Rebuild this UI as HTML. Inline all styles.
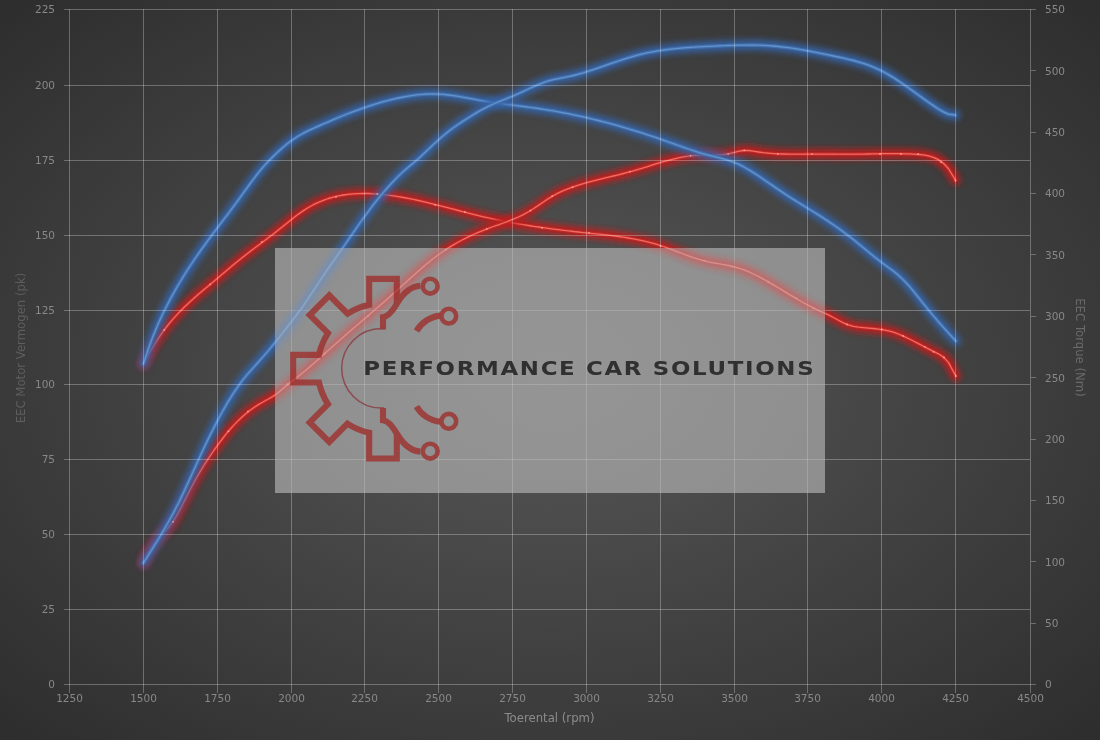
<!DOCTYPE html>
<html><head><meta charset="utf-8"><title>Dyno chart</title>
<style>
html,body{margin:0;padding:0;}
body{width:1100px;height:740px;overflow:hidden;background:#333;}
#c{position:absolute;left:0;top:0;width:1100px;height:740px;
background:radial-gradient(ellipse farthest-corner at 50% 50%,#585858 0%,#2d2d2d 100%);}
svg{position:absolute;left:0;top:0;}
text{font-family:"DejaVu Sans","Liberation Sans",sans-serif;}
</style></head><body><div id="c">
<svg width="1100" height="740" viewBox="0 0 1100 740">
<defs>
<filter id="g1" x="-5%" y="-10%" width="110%" height="120%"><feGaussianBlur stdDeviation="3.4"/></filter>
</defs>

<g fill="#888888" font-size="10.5">
<text x="69.5" y="701.5" text-anchor="middle">1250</text>
<text x="143.5" y="701.5" text-anchor="middle">1500</text>
<text x="217.5" y="701.5" text-anchor="middle">1750</text>
<text x="291.5" y="701.5" text-anchor="middle">2000</text>
<text x="364.5" y="701.5" text-anchor="middle">2250</text>
<text x="438.5" y="701.5" text-anchor="middle">2500</text>
<text x="512.5" y="701.5" text-anchor="middle">2750</text>
<text x="586.5" y="701.5" text-anchor="middle">3000</text>
<text x="660.5" y="701.5" text-anchor="middle">3250</text>
<text x="734.5" y="701.5" text-anchor="middle">3500</text>
<text x="807.5" y="701.5" text-anchor="middle">3750</text>
<text x="881.5" y="701.5" text-anchor="middle">4000</text>
<text x="955.5" y="701.5" text-anchor="middle">4250</text>
<text x="1030.5" y="701.5" text-anchor="middle">4500</text>
<text x="55" y="13.2" text-anchor="end">225</text>
<text x="55" y="89.2" text-anchor="end">200</text>
<text x="55" y="164.2" text-anchor="end">175</text>
<text x="55" y="239.2" text-anchor="end">150</text>
<text x="55" y="314.2" text-anchor="end">125</text>
<text x="55" y="388.2" text-anchor="end">100</text>
<text x="55" y="463.2" text-anchor="end">75</text>
<text x="55" y="538.2" text-anchor="end">50</text>
<text x="55" y="613.2" text-anchor="end">25</text>
<text x="55" y="688.2" text-anchor="end">0</text>
<text x="1045" y="688.3">0</text>
<text x="1045" y="626.9">50</text>
<text x="1045" y="565.6">100</text>
<text x="1045" y="504.2">150</text>
<text x="1045" y="442.8">200</text>
<text x="1045" y="381.5">250</text>
<text x="1045" y="320.1">300</text>
<text x="1045" y="258.8">350</text>
<text x="1045" y="197.4">400</text>
<text x="1045" y="136.0">450</text>
<text x="1045" y="74.7">500</text>
<text x="1045" y="13.3">550</text>
</g>
<text x="549.5" y="721.6" text-anchor="middle" font-size="11.7" fill="#8c8c8c">Toerental (rpm)</text>
<text transform="translate(24.6,348) rotate(-90)" text-anchor="middle" font-size="11.7" fill="#5e5e5e">EEC Motor Vermogen (pk)</text>
<text transform="translate(1075.6,347.5) rotate(90)" text-anchor="middle" font-size="11.7" fill="#6a6a6a">EEC Torque (Nm)</text>
<path d="M143.4,364.0 148.4,354.6 153.4,346.0 158.4,338.2 163.4,331.0 168.4,324.5 173.4,318.6 178.4,313.1 183.4,308.0 188.4,303.2 193.4,298.7 198.4,294.3 203.4,290.1 208.4,285.9 213.4,281.7 218.4,277.5 223.4,273.2 228.4,269.0 233.4,264.8 238.4,260.7 243.4,256.7 248.4,252.8 253.4,249.0 258.4,245.2 263.4,241.5 268.4,237.7 273.4,233.9 278.4,230.0 283.4,226.0 288.4,221.9 293.4,217.9 298.4,214.1 303.4,210.6 308.4,207.5 313.4,204.7 318.4,202.3 323.4,200.3 328.4,198.5 333.4,197.1 338.4,195.9 343.4,195.0 348.4,194.3 353.4,193.9 358.4,193.6 363.4,193.5 368.4,193.5 373.4,193.8 378.4,194.1 383.4,194.6 388.4,195.2 393.4,195.8 398.4,196.6 403.4,197.5 408.4,198.4 413.4,199.4 418.4,200.5 423.4,201.7 428.4,202.8 433.4,204.1 438.4,205.3 443.4,206.6 448.4,207.9 453.4,209.2 458.4,210.5 463.4,211.8 468.4,213.1 473.4,214.4 478.4,215.6 483.4,216.8 488.4,217.9 493.4,219.0 498.4,220.1 503.4,221.1 508.4,222.1 513.4,223.0 518.4,223.9 523.4,224.7 528.4,225.5 533.4,226.3 538.4,227.0 543.4,227.7 548.4,228.4 553.4,229.1 558.4,229.7 563.4,230.3 568.4,230.9 573.4,231.5 578.4,232.0 583.4,232.6 588.4,233.1 593.4,233.6 598.4,234.1 603.4,234.6 608.4,235.2 613.4,235.8 618.4,236.5 623.4,237.2 628.4,238.0 633.4,238.8 638.4,239.8 643.4,240.9 648.4,242.1 653.4,243.4 658.4,244.9 663.4,246.5 668.4,248.3 673.4,250.2 678.4,252.1 683.4,254.0 688.4,255.8 693.4,257.6 698.4,259.2 703.4,260.6 708.4,261.8 713.4,262.8 718.4,263.7 723.4,264.6 728.4,265.5 733.4,266.7 738.4,268.0 743.4,269.7 748.4,271.7 753.4,274.0 758.4,276.4 763.4,279.1 768.4,281.9 773.4,284.9 778.4,287.8 783.4,290.9 788.4,293.9 793.4,296.9 798.4,299.8 803.4,302.7 808.4,305.4 813.4,307.9 818.4,310.3 823.4,312.6 828.4,314.9 833.4,317.5 838.4,320.2 843.4,322.8 848.4,324.9 853.4,326.3 858.4,327.1 863.4,327.6 868.4,328.1 873.4,328.5 878.4,329.1 883.4,329.8 888.4,330.8 893.4,332.2 898.4,334.0 903.4,336.1 908.4,338.5 913.4,341.0 918.4,343.6 923.4,346.3 928.4,348.9 933.4,351.4 938.4,353.8 943.4,357.1 948.4,362.4 955.8,376.0" fill="none" stroke="#c01c1c" stroke-width="10" stroke-linecap="round" stroke-linejoin="round" filter="url(#g1)" opacity="0.95"/><path d="M143.4,364.0 148.4,354.6 153.4,346.0 158.4,338.2 163.4,331.0 168.4,324.5 173.4,318.6 178.4,313.1 183.4,308.0 188.4,303.2 193.4,298.7 198.4,294.3 203.4,290.1 208.4,285.9 213.4,281.7 218.4,277.5 223.4,273.2 228.4,269.0 233.4,264.8 238.4,260.7 243.4,256.7 248.4,252.8 253.4,249.0 258.4,245.2 263.4,241.5 268.4,237.7 273.4,233.9 278.4,230.0 283.4,226.0 288.4,221.9 293.4,217.9 298.4,214.1 303.4,210.6 308.4,207.5 313.4,204.7 318.4,202.3 323.4,200.3 328.4,198.5 333.4,197.1 338.4,195.9 343.4,195.0 348.4,194.3 353.4,193.9 358.4,193.6 363.4,193.5 368.4,193.5 373.4,193.8 378.4,194.1 383.4,194.6 388.4,195.2 393.4,195.8 398.4,196.6 403.4,197.5 408.4,198.4 413.4,199.4 418.4,200.5 423.4,201.7 428.4,202.8 433.4,204.1 438.4,205.3 443.4,206.6 448.4,207.9 453.4,209.2 458.4,210.5 463.4,211.8 468.4,213.1 473.4,214.4 478.4,215.6 483.4,216.8 488.4,217.9 493.4,219.0 498.4,220.1 503.4,221.1 508.4,222.1 513.4,223.0 518.4,223.9 523.4,224.7 528.4,225.5 533.4,226.3 538.4,227.0 543.4,227.7 548.4,228.4 553.4,229.1 558.4,229.7 563.4,230.3 568.4,230.9 573.4,231.5 578.4,232.0 583.4,232.6 588.4,233.1 593.4,233.6 598.4,234.1 603.4,234.6 608.4,235.2 613.4,235.8 618.4,236.5 623.4,237.2 628.4,238.0 633.4,238.8 638.4,239.8 643.4,240.9 648.4,242.1 653.4,243.4 658.4,244.9 663.4,246.5 668.4,248.3 673.4,250.2 678.4,252.1 683.4,254.0 688.4,255.8 693.4,257.6 698.4,259.2 703.4,260.6 708.4,261.8 713.4,262.8 718.4,263.7 723.4,264.6 728.4,265.5 733.4,266.7 738.4,268.0 743.4,269.7 748.4,271.7 753.4,274.0 758.4,276.4 763.4,279.1 768.4,281.9 773.4,284.9 778.4,287.8 783.4,290.9 788.4,293.9 793.4,296.9 798.4,299.8 803.4,302.7 808.4,305.4 813.4,307.9 818.4,310.3 823.4,312.6 828.4,314.9 833.4,317.5 838.4,320.2 843.4,322.8 848.4,324.9 853.4,326.3 858.4,327.1 863.4,327.6 868.4,328.1 873.4,328.5 878.4,329.1 883.4,329.8 888.4,330.8 893.4,332.2 898.4,334.0 903.4,336.1 908.4,338.5 913.4,341.0 918.4,343.6 923.4,346.3 928.4,348.9 933.4,351.4 938.4,353.8 943.4,357.1 948.4,362.4 955.8,376.0" fill="none" stroke="#c42828" stroke-width="3.6" stroke-linecap="round" stroke-linejoin="round" opacity="0.9"/><path d="M143.4,364.0 148.4,354.6 153.4,346.0 158.4,338.2 163.4,331.0 168.4,324.5 173.4,318.6 178.4,313.1 183.4,308.0 188.4,303.2 193.4,298.7 198.4,294.3 203.4,290.1 208.4,285.9 213.4,281.7 218.4,277.5 223.4,273.2 228.4,269.0 233.4,264.8 238.4,260.7 243.4,256.7 248.4,252.8 253.4,249.0 258.4,245.2 263.4,241.5 268.4,237.7 273.4,233.9 278.4,230.0 283.4,226.0 288.4,221.9 293.4,217.9 298.4,214.1 303.4,210.6 308.4,207.5 313.4,204.7 318.4,202.3 323.4,200.3 328.4,198.5 333.4,197.1 338.4,195.9 343.4,195.0 348.4,194.3 353.4,193.9 358.4,193.6 363.4,193.5 368.4,193.5 373.4,193.8 378.4,194.1 383.4,194.6 388.4,195.2 393.4,195.8 398.4,196.6 403.4,197.5 408.4,198.4 413.4,199.4 418.4,200.5 423.4,201.7 428.4,202.8 433.4,204.1 438.4,205.3 443.4,206.6 448.4,207.9 453.4,209.2 458.4,210.5 463.4,211.8 468.4,213.1 473.4,214.4 478.4,215.6 483.4,216.8 488.4,217.9 493.4,219.0 498.4,220.1 503.4,221.1 508.4,222.1 513.4,223.0 518.4,223.9 523.4,224.7 528.4,225.5 533.4,226.3 538.4,227.0 543.4,227.7 548.4,228.4 553.4,229.1 558.4,229.7 563.4,230.3 568.4,230.9 573.4,231.5 578.4,232.0 583.4,232.6 588.4,233.1 593.4,233.6 598.4,234.1 603.4,234.6 608.4,235.2 613.4,235.8 618.4,236.5 623.4,237.2 628.4,238.0 633.4,238.8 638.4,239.8 643.4,240.9 648.4,242.1 653.4,243.4 658.4,244.9 663.4,246.5 668.4,248.3 673.4,250.2 678.4,252.1 683.4,254.0 688.4,255.8 693.4,257.6 698.4,259.2 703.4,260.6 708.4,261.8 713.4,262.8 718.4,263.7 723.4,264.6 728.4,265.5 733.4,266.7 738.4,268.0 743.4,269.7 748.4,271.7 753.4,274.0 758.4,276.4 763.4,279.1 768.4,281.9 773.4,284.9 778.4,287.8 783.4,290.9 788.4,293.9 793.4,296.9 798.4,299.8 803.4,302.7 808.4,305.4 813.4,307.9 818.4,310.3 823.4,312.6 828.4,314.9 833.4,317.5 838.4,320.2 843.4,322.8 848.4,324.9 853.4,326.3 858.4,327.1 863.4,327.6 868.4,328.1 873.4,328.5 878.4,329.1 883.4,329.8 888.4,330.8 893.4,332.2 898.4,334.0 903.4,336.1 908.4,338.5 913.4,341.0 918.4,343.6 923.4,346.3 928.4,348.9 933.4,351.4 938.4,353.8 943.4,357.1 948.4,362.4 955.8,376.0" fill="none" stroke="#f47a6c" stroke-width="1.3" stroke-linecap="round" stroke-linejoin="round" opacity="0.85"/>
<path d="M143.4,563.0 148.4,552.4 153.4,544.5 158.4,538.3 163.4,533.0 168.4,527.5 173.4,520.9 178.4,512.5 183.4,502.8 188.4,492.9 193.4,483.3 198.4,474.4 203.4,466.1 208.4,458.4 213.4,451.1 218.4,444.1 223.4,437.5 228.4,431.2 233.4,425.6 238.4,420.4 243.4,415.8 248.4,411.6 253.4,407.9 258.4,404.6 263.4,401.7 268.4,399.0 273.4,396.1 278.4,392.5 283.4,388.2 288.4,384.0 293.4,380.1 298.4,376.3 303.4,372.3 308.4,368.1 313.4,363.7 318.4,359.2 323.4,354.7 328.4,350.2 333.4,345.8 338.4,341.4 343.4,337.0 348.4,332.6 353.4,328.3 358.4,324.0 363.4,319.7 368.4,315.4 373.4,311.0 378.4,306.7 383.4,302.4 388.4,298.0 393.4,293.5 398.4,289.1 403.4,284.6 408.4,280.0 413.4,275.5 418.4,271.0 423.4,266.7 428.4,262.5 433.4,258.5 438.4,254.7 443.4,251.2 448.4,247.9 453.4,244.9 458.4,242.0 463.4,239.3 468.4,236.8 473.4,234.5 478.4,232.3 483.4,230.3 488.4,228.3 493.4,226.5 498.4,224.8 503.4,223.0 508.4,221.1 513.4,219.2 518.4,217.0 523.4,214.6 528.4,211.8 533.4,208.8 538.4,205.4 543.4,202.0 548.4,198.6 553.4,195.6 558.4,192.9 563.4,190.6 568.4,188.6 573.4,186.8 578.4,185.1 583.4,183.6 588.4,182.2 593.4,180.8 598.4,179.6 603.4,178.4 608.4,177.2 613.4,176.0 618.4,174.8 623.4,173.5 628.4,172.2 633.4,170.8 638.4,169.3 643.4,167.8 648.4,166.3 653.4,164.7 658.4,163.2 663.4,161.7 668.4,160.4 673.4,159.1 678.4,157.9 683.4,156.9 688.4,156.1 693.4,155.5 698.4,155.1 703.4,155.0 708.4,155.0 713.4,155.1 718.4,155.0 723.4,154.6 728.4,153.8 733.4,152.6 738.4,151.3 743.4,150.5 748.4,150.5 753.4,151.2 758.4,152.0 763.4,152.7 768.4,153.2 773.4,153.6 778.4,153.9 783.4,154.0 788.4,154.1 793.4,154.2 798.4,154.2 803.4,154.2 808.4,154.1 813.4,154.1 818.4,154.1 823.4,154.1 828.4,154.1 833.4,154.1 838.4,154.2 843.4,154.2 848.4,154.2 853.4,154.2 858.4,154.1 863.4,154.1 868.4,154.0 873.4,153.9 878.4,153.8 883.4,153.7 888.4,153.7 893.4,153.7 898.4,153.7 903.4,153.8 908.4,153.9 913.4,154.2 918.4,154.5 923.4,154.9 928.4,155.8 933.4,157.3 938.4,159.6 943.4,163.2 948.4,168.5 955.4,180.0" fill="none" stroke="#c01c1c" stroke-width="10" stroke-linecap="round" stroke-linejoin="round" filter="url(#g1)" opacity="0.95"/><path d="M143.4,563.0 148.4,552.4 153.4,544.5 158.4,538.3 163.4,533.0 168.4,527.5 173.4,520.9 178.4,512.5 183.4,502.8 188.4,492.9 193.4,483.3 198.4,474.4 203.4,466.1 208.4,458.4 213.4,451.1 218.4,444.1 223.4,437.5 228.4,431.2 233.4,425.6 238.4,420.4 243.4,415.8 248.4,411.6 253.4,407.9 258.4,404.6 263.4,401.7 268.4,399.0 273.4,396.1 278.4,392.5 283.4,388.2 288.4,384.0 293.4,380.1 298.4,376.3 303.4,372.3 308.4,368.1 313.4,363.7 318.4,359.2 323.4,354.7 328.4,350.2 333.4,345.8 338.4,341.4 343.4,337.0 348.4,332.6 353.4,328.3 358.4,324.0 363.4,319.7 368.4,315.4 373.4,311.0 378.4,306.7 383.4,302.4 388.4,298.0 393.4,293.5 398.4,289.1 403.4,284.6 408.4,280.0 413.4,275.5 418.4,271.0 423.4,266.7 428.4,262.5 433.4,258.5 438.4,254.7 443.4,251.2 448.4,247.9 453.4,244.9 458.4,242.0 463.4,239.3 468.4,236.8 473.4,234.5 478.4,232.3 483.4,230.3 488.4,228.3 493.4,226.5 498.4,224.8 503.4,223.0 508.4,221.1 513.4,219.2 518.4,217.0 523.4,214.6 528.4,211.8 533.4,208.8 538.4,205.4 543.4,202.0 548.4,198.6 553.4,195.6 558.4,192.9 563.4,190.6 568.4,188.6 573.4,186.8 578.4,185.1 583.4,183.6 588.4,182.2 593.4,180.8 598.4,179.6 603.4,178.4 608.4,177.2 613.4,176.0 618.4,174.8 623.4,173.5 628.4,172.2 633.4,170.8 638.4,169.3 643.4,167.8 648.4,166.3 653.4,164.7 658.4,163.2 663.4,161.7 668.4,160.4 673.4,159.1 678.4,157.9 683.4,156.9 688.4,156.1 693.4,155.5 698.4,155.1 703.4,155.0 708.4,155.0 713.4,155.1 718.4,155.0 723.4,154.6 728.4,153.8 733.4,152.6 738.4,151.3 743.4,150.5 748.4,150.5 753.4,151.2 758.4,152.0 763.4,152.7 768.4,153.2 773.4,153.6 778.4,153.9 783.4,154.0 788.4,154.1 793.4,154.2 798.4,154.2 803.4,154.2 808.4,154.1 813.4,154.1 818.4,154.1 823.4,154.1 828.4,154.1 833.4,154.1 838.4,154.2 843.4,154.2 848.4,154.2 853.4,154.2 858.4,154.1 863.4,154.1 868.4,154.0 873.4,153.9 878.4,153.8 883.4,153.7 888.4,153.7 893.4,153.7 898.4,153.7 903.4,153.8 908.4,153.9 913.4,154.2 918.4,154.5 923.4,154.9 928.4,155.8 933.4,157.3 938.4,159.6 943.4,163.2 948.4,168.5 955.4,180.0" fill="none" stroke="#c42828" stroke-width="3.6" stroke-linecap="round" stroke-linejoin="round" opacity="0.9"/><path d="M143.4,563.0 148.4,552.4 153.4,544.5 158.4,538.3 163.4,533.0 168.4,527.5 173.4,520.9 178.4,512.5 183.4,502.8 188.4,492.9 193.4,483.3 198.4,474.4 203.4,466.1 208.4,458.4 213.4,451.1 218.4,444.1 223.4,437.5 228.4,431.2 233.4,425.6 238.4,420.4 243.4,415.8 248.4,411.6 253.4,407.9 258.4,404.6 263.4,401.7 268.4,399.0 273.4,396.1 278.4,392.5 283.4,388.2 288.4,384.0 293.4,380.1 298.4,376.3 303.4,372.3 308.4,368.1 313.4,363.7 318.4,359.2 323.4,354.7 328.4,350.2 333.4,345.8 338.4,341.4 343.4,337.0 348.4,332.6 353.4,328.3 358.4,324.0 363.4,319.7 368.4,315.4 373.4,311.0 378.4,306.7 383.4,302.4 388.4,298.0 393.4,293.5 398.4,289.1 403.4,284.6 408.4,280.0 413.4,275.5 418.4,271.0 423.4,266.7 428.4,262.5 433.4,258.5 438.4,254.7 443.4,251.2 448.4,247.9 453.4,244.9 458.4,242.0 463.4,239.3 468.4,236.8 473.4,234.5 478.4,232.3 483.4,230.3 488.4,228.3 493.4,226.5 498.4,224.8 503.4,223.0 508.4,221.1 513.4,219.2 518.4,217.0 523.4,214.6 528.4,211.8 533.4,208.8 538.4,205.4 543.4,202.0 548.4,198.6 553.4,195.6 558.4,192.9 563.4,190.6 568.4,188.6 573.4,186.8 578.4,185.1 583.4,183.6 588.4,182.2 593.4,180.8 598.4,179.6 603.4,178.4 608.4,177.2 613.4,176.0 618.4,174.8 623.4,173.5 628.4,172.2 633.4,170.8 638.4,169.3 643.4,167.8 648.4,166.3 653.4,164.7 658.4,163.2 663.4,161.7 668.4,160.4 673.4,159.1 678.4,157.9 683.4,156.9 688.4,156.1 693.4,155.5 698.4,155.1 703.4,155.0 708.4,155.0 713.4,155.1 718.4,155.0 723.4,154.6 728.4,153.8 733.4,152.6 738.4,151.3 743.4,150.5 748.4,150.5 753.4,151.2 758.4,152.0 763.4,152.7 768.4,153.2 773.4,153.6 778.4,153.9 783.4,154.0 788.4,154.1 793.4,154.2 798.4,154.2 803.4,154.2 808.4,154.1 813.4,154.1 818.4,154.1 823.4,154.1 828.4,154.1 833.4,154.1 838.4,154.2 843.4,154.2 848.4,154.2 853.4,154.2 858.4,154.1 863.4,154.1 868.4,154.0 873.4,153.9 878.4,153.8 883.4,153.7 888.4,153.7 893.4,153.7 898.4,153.7 903.4,153.8 908.4,153.9 913.4,154.2 918.4,154.5 923.4,154.9 928.4,155.8 933.4,157.3 938.4,159.6 943.4,163.2 948.4,168.5 955.4,180.0" fill="none" stroke="#f47a6c" stroke-width="1.3" stroke-linecap="round" stroke-linejoin="round" opacity="0.85"/>
<path d="M143.4,363.9 148.4,348.7 153.4,335.2 158.4,323.3 163.4,312.5 168.4,302.7 173.4,293.4 178.4,284.7 183.4,276.4 188.4,268.5 193.4,261.0 198.4,253.7 203.4,246.7 208.4,239.8 213.4,233.1 218.4,226.5 223.4,219.9 228.4,213.3 233.4,206.6 238.4,199.9 243.4,192.9 248.4,186.0 253.4,179.2 258.4,172.7 263.4,166.6 268.4,161.2 273.4,156.2 278.4,151.4 283.4,146.9 288.4,142.8 293.4,139.2 298.4,136.0 303.4,133.2 308.4,130.7 313.4,128.4 318.4,126.1 323.4,123.9 328.4,121.8 333.4,119.6 338.4,117.5 343.4,115.5 348.4,113.5 353.4,111.6 358.4,109.8 363.4,108.0 368.4,106.3 373.4,104.7 378.4,103.1 383.4,101.7 388.4,100.4 393.4,99.1 398.4,98.0 403.4,97.0 408.4,96.1 413.4,95.4 418.4,94.7 423.4,94.3 428.4,94.0 433.4,94.0 438.4,94.1 443.4,94.4 448.4,95.0 453.4,95.6 458.4,96.4 463.4,97.3 468.4,98.2 473.4,99.1 478.4,100.1 483.4,101.0 488.4,101.8 493.4,102.5 498.4,103.3 503.4,103.9 508.4,104.6 513.4,105.2 518.4,105.9 523.4,106.5 528.4,107.2 533.4,107.8 538.4,108.5 543.4,109.3 548.4,110.1 553.4,110.9 558.4,111.8 563.4,112.8 568.4,113.7 573.4,114.8 578.4,115.8 583.4,116.9 588.4,118.1 593.4,119.3 598.4,120.5 603.4,121.8 608.4,123.1 613.4,124.4 618.4,125.8 623.4,127.3 628.4,128.8 633.4,130.3 638.4,131.8 643.4,133.4 648.4,135.1 653.4,136.7 658.4,138.4 663.4,140.2 668.4,142.0 673.4,143.7 678.4,145.5 683.4,147.3 688.4,149.0 693.4,150.7 698.4,152.3 703.4,153.8 708.4,155.2 713.4,156.4 718.4,157.6 723.4,158.9 728.4,160.4 733.4,162.1 738.4,164.2 743.4,166.7 748.4,169.5 753.4,172.6 758.4,175.8 763.4,179.2 768.4,182.7 773.4,186.1 778.4,189.6 783.4,192.9 788.4,196.2 793.4,199.4 798.4,202.5 803.4,205.6 808.4,208.7 813.4,211.8 818.4,214.9 823.4,218.1 828.4,221.4 833.4,224.8 838.4,228.3 843.4,231.9 848.4,235.7 853.4,239.6 858.4,243.7 863.4,247.8 868.4,251.9 873.4,256.0 878.4,259.9 883.4,263.7 888.4,267.4 893.4,271.1 898.4,275.2 903.4,279.9 908.4,285.2 913.4,291.1 918.4,297.3 923.4,303.7 928.4,309.9 933.4,315.9 938.4,321.7 943.4,327.4 948.4,332.9 955.8,341.0" fill="none" stroke="#3464a8" stroke-width="10" stroke-linecap="round" stroke-linejoin="round" filter="url(#g1)" opacity="0.95"/><path d="M143.4,363.9 148.4,348.7 153.4,335.2 158.4,323.3 163.4,312.5 168.4,302.7 173.4,293.4 178.4,284.7 183.4,276.4 188.4,268.5 193.4,261.0 198.4,253.7 203.4,246.7 208.4,239.8 213.4,233.1 218.4,226.5 223.4,219.9 228.4,213.3 233.4,206.6 238.4,199.9 243.4,192.9 248.4,186.0 253.4,179.2 258.4,172.7 263.4,166.6 268.4,161.2 273.4,156.2 278.4,151.4 283.4,146.9 288.4,142.8 293.4,139.2 298.4,136.0 303.4,133.2 308.4,130.7 313.4,128.4 318.4,126.1 323.4,123.9 328.4,121.8 333.4,119.6 338.4,117.5 343.4,115.5 348.4,113.5 353.4,111.6 358.4,109.8 363.4,108.0 368.4,106.3 373.4,104.7 378.4,103.1 383.4,101.7 388.4,100.4 393.4,99.1 398.4,98.0 403.4,97.0 408.4,96.1 413.4,95.4 418.4,94.7 423.4,94.3 428.4,94.0 433.4,94.0 438.4,94.1 443.4,94.4 448.4,95.0 453.4,95.6 458.4,96.4 463.4,97.3 468.4,98.2 473.4,99.1 478.4,100.1 483.4,101.0 488.4,101.8 493.4,102.5 498.4,103.3 503.4,103.9 508.4,104.6 513.4,105.2 518.4,105.9 523.4,106.5 528.4,107.2 533.4,107.8 538.4,108.5 543.4,109.3 548.4,110.1 553.4,110.9 558.4,111.8 563.4,112.8 568.4,113.7 573.4,114.8 578.4,115.8 583.4,116.9 588.4,118.1 593.4,119.3 598.4,120.5 603.4,121.8 608.4,123.1 613.4,124.4 618.4,125.8 623.4,127.3 628.4,128.8 633.4,130.3 638.4,131.8 643.4,133.4 648.4,135.1 653.4,136.7 658.4,138.4 663.4,140.2 668.4,142.0 673.4,143.7 678.4,145.5 683.4,147.3 688.4,149.0 693.4,150.7 698.4,152.3 703.4,153.8 708.4,155.2 713.4,156.4 718.4,157.6 723.4,158.9 728.4,160.4 733.4,162.1 738.4,164.2 743.4,166.7 748.4,169.5 753.4,172.6 758.4,175.8 763.4,179.2 768.4,182.7 773.4,186.1 778.4,189.6 783.4,192.9 788.4,196.2 793.4,199.4 798.4,202.5 803.4,205.6 808.4,208.7 813.4,211.8 818.4,214.9 823.4,218.1 828.4,221.4 833.4,224.8 838.4,228.3 843.4,231.9 848.4,235.7 853.4,239.6 858.4,243.7 863.4,247.8 868.4,251.9 873.4,256.0 878.4,259.9 883.4,263.7 888.4,267.4 893.4,271.1 898.4,275.2 903.4,279.9 908.4,285.2 913.4,291.1 918.4,297.3 923.4,303.7 928.4,309.9 933.4,315.9 938.4,321.7 943.4,327.4 948.4,332.9 955.8,341.0" fill="none" stroke="#4272b2" stroke-width="3.6" stroke-linecap="round" stroke-linejoin="round" opacity="0.9"/><path d="M143.4,363.9 148.4,348.7 153.4,335.2 158.4,323.3 163.4,312.5 168.4,302.7 173.4,293.4 178.4,284.7 183.4,276.4 188.4,268.5 193.4,261.0 198.4,253.7 203.4,246.7 208.4,239.8 213.4,233.1 218.4,226.5 223.4,219.9 228.4,213.3 233.4,206.6 238.4,199.9 243.4,192.9 248.4,186.0 253.4,179.2 258.4,172.7 263.4,166.6 268.4,161.2 273.4,156.2 278.4,151.4 283.4,146.9 288.4,142.8 293.4,139.2 298.4,136.0 303.4,133.2 308.4,130.7 313.4,128.4 318.4,126.1 323.4,123.9 328.4,121.8 333.4,119.6 338.4,117.5 343.4,115.5 348.4,113.5 353.4,111.6 358.4,109.8 363.4,108.0 368.4,106.3 373.4,104.7 378.4,103.1 383.4,101.7 388.4,100.4 393.4,99.1 398.4,98.0 403.4,97.0 408.4,96.1 413.4,95.4 418.4,94.7 423.4,94.3 428.4,94.0 433.4,94.0 438.4,94.1 443.4,94.4 448.4,95.0 453.4,95.6 458.4,96.4 463.4,97.3 468.4,98.2 473.4,99.1 478.4,100.1 483.4,101.0 488.4,101.8 493.4,102.5 498.4,103.3 503.4,103.9 508.4,104.6 513.4,105.2 518.4,105.9 523.4,106.5 528.4,107.2 533.4,107.8 538.4,108.5 543.4,109.3 548.4,110.1 553.4,110.9 558.4,111.8 563.4,112.8 568.4,113.7 573.4,114.8 578.4,115.8 583.4,116.9 588.4,118.1 593.4,119.3 598.4,120.5 603.4,121.8 608.4,123.1 613.4,124.4 618.4,125.8 623.4,127.3 628.4,128.8 633.4,130.3 638.4,131.8 643.4,133.4 648.4,135.1 653.4,136.7 658.4,138.4 663.4,140.2 668.4,142.0 673.4,143.7 678.4,145.5 683.4,147.3 688.4,149.0 693.4,150.7 698.4,152.3 703.4,153.8 708.4,155.2 713.4,156.4 718.4,157.6 723.4,158.9 728.4,160.4 733.4,162.1 738.4,164.2 743.4,166.7 748.4,169.5 753.4,172.6 758.4,175.8 763.4,179.2 768.4,182.7 773.4,186.1 778.4,189.6 783.4,192.9 788.4,196.2 793.4,199.4 798.4,202.5 803.4,205.6 808.4,208.7 813.4,211.8 818.4,214.9 823.4,218.1 828.4,221.4 833.4,224.8 838.4,228.3 843.4,231.9 848.4,235.7 853.4,239.6 858.4,243.7 863.4,247.8 868.4,251.9 873.4,256.0 878.4,259.9 883.4,263.7 888.4,267.4 893.4,271.1 898.4,275.2 903.4,279.9 908.4,285.2 913.4,291.1 918.4,297.3 923.4,303.7 928.4,309.9 933.4,315.9 938.4,321.7 943.4,327.4 948.4,332.9 955.8,341.0" fill="none" stroke="#6a98cc" stroke-width="1.3" stroke-linecap="round" stroke-linejoin="round" opacity="0.85"/>
<path d="M143.4,563.0 148.4,555.1 153.4,547.1 158.4,539.0 163.4,530.7 168.4,522.0 173.4,512.9 178.4,503.2 183.4,492.9 188.4,482.1 193.4,471.0 198.4,460.0 203.4,449.1 208.4,438.6 213.4,428.6 218.4,418.9 223.4,409.8 228.4,401.2 233.4,393.2 238.4,385.9 243.4,379.2 248.4,373.2 253.4,367.6 258.4,362.0 263.4,356.4 268.4,350.6 273.4,344.5 278.4,338.3 283.4,331.9 288.4,325.5 293.4,319.1 298.4,312.5 303.4,305.6 308.4,298.2 313.4,290.6 318.4,283.0 323.4,275.5 328.4,268.2 333.4,261.1 338.4,254.0 343.4,246.8 348.4,239.6 353.4,232.4 358.4,225.2 363.4,218.1 368.4,211.3 373.4,204.7 378.4,198.4 383.4,192.4 388.4,186.7 393.4,181.2 398.4,176.1 403.4,171.4 408.4,167.1 413.4,163.0 418.4,158.7 423.4,154.0 428.4,149.3 433.4,144.5 438.4,139.9 443.4,135.6 448.4,131.5 453.4,127.8 458.4,124.2 463.4,120.9 468.4,117.7 473.4,114.6 478.4,111.6 483.4,108.9 488.4,106.3 493.4,104.0 498.4,101.9 503.4,99.9 508.4,97.9 513.4,95.9 518.4,93.7 523.4,91.4 528.4,89.0 533.4,86.7 538.4,84.6 543.4,82.6 548.4,80.9 553.4,79.6 558.4,78.6 563.4,77.6 568.4,76.6 573.4,75.5 578.4,74.2 583.4,72.8 588.4,71.2 593.4,69.6 598.4,67.9 603.4,66.2 608.4,64.4 613.4,62.7 618.4,61.0 623.4,59.3 628.4,57.8 633.4,56.3 638.4,54.9 643.4,53.7 648.4,52.6 653.4,51.7 658.4,50.8 663.4,50.1 668.4,49.4 673.4,48.8 678.4,48.3 683.4,47.9 688.4,47.5 693.4,47.2 698.4,46.9 703.4,46.6 708.4,46.4 713.4,46.2 718.4,45.9 723.4,45.7 728.4,45.5 733.4,45.4 738.4,45.2 743.4,45.2 748.4,45.1 753.4,45.1 758.4,45.2 763.4,45.4 768.4,45.7 773.4,46.0 778.4,46.5 783.4,47.1 788.4,47.7 793.4,48.4 798.4,49.2 803.4,50.1 808.4,51.0 813.4,51.9 818.4,52.9 823.4,53.9 828.4,54.9 833.4,56.0 838.4,57.0 843.4,58.1 848.4,59.3 853.4,60.5 858.4,61.9 863.4,63.4 868.4,65.1 873.4,67.1 878.4,69.3 883.4,71.8 888.4,74.6 893.4,77.6 898.4,80.9 903.4,84.3 908.4,87.8 913.4,91.4 918.4,95.0 923.4,98.6 928.4,102.2 933.4,105.6 938.4,109.0 943.4,111.9 948.4,114.2 955.4,115.1" fill="none" stroke="#3464a8" stroke-width="10" stroke-linecap="round" stroke-linejoin="round" filter="url(#g1)" opacity="0.95"/><path d="M143.4,563.0 148.4,555.1 153.4,547.1 158.4,539.0 163.4,530.7 168.4,522.0 173.4,512.9 178.4,503.2 183.4,492.9 188.4,482.1 193.4,471.0 198.4,460.0 203.4,449.1 208.4,438.6 213.4,428.6 218.4,418.9 223.4,409.8 228.4,401.2 233.4,393.2 238.4,385.9 243.4,379.2 248.4,373.2 253.4,367.6 258.4,362.0 263.4,356.4 268.4,350.6 273.4,344.5 278.4,338.3 283.4,331.9 288.4,325.5 293.4,319.1 298.4,312.5 303.4,305.6 308.4,298.2 313.4,290.6 318.4,283.0 323.4,275.5 328.4,268.2 333.4,261.1 338.4,254.0 343.4,246.8 348.4,239.6 353.4,232.4 358.4,225.2 363.4,218.1 368.4,211.3 373.4,204.7 378.4,198.4 383.4,192.4 388.4,186.7 393.4,181.2 398.4,176.1 403.4,171.4 408.4,167.1 413.4,163.0 418.4,158.7 423.4,154.0 428.4,149.3 433.4,144.5 438.4,139.9 443.4,135.6 448.4,131.5 453.4,127.8 458.4,124.2 463.4,120.9 468.4,117.7 473.4,114.6 478.4,111.6 483.4,108.9 488.4,106.3 493.4,104.0 498.4,101.9 503.4,99.9 508.4,97.9 513.4,95.9 518.4,93.7 523.4,91.4 528.4,89.0 533.4,86.7 538.4,84.6 543.4,82.6 548.4,80.9 553.4,79.6 558.4,78.6 563.4,77.6 568.4,76.6 573.4,75.5 578.4,74.2 583.4,72.8 588.4,71.2 593.4,69.6 598.4,67.9 603.4,66.2 608.4,64.4 613.4,62.7 618.4,61.0 623.4,59.3 628.4,57.8 633.4,56.3 638.4,54.9 643.4,53.7 648.4,52.6 653.4,51.7 658.4,50.8 663.4,50.1 668.4,49.4 673.4,48.8 678.4,48.3 683.4,47.9 688.4,47.5 693.4,47.2 698.4,46.9 703.4,46.6 708.4,46.4 713.4,46.2 718.4,45.9 723.4,45.7 728.4,45.5 733.4,45.4 738.4,45.2 743.4,45.2 748.4,45.1 753.4,45.1 758.4,45.2 763.4,45.4 768.4,45.7 773.4,46.0 778.4,46.5 783.4,47.1 788.4,47.7 793.4,48.4 798.4,49.2 803.4,50.1 808.4,51.0 813.4,51.9 818.4,52.9 823.4,53.9 828.4,54.9 833.4,56.0 838.4,57.0 843.4,58.1 848.4,59.3 853.4,60.5 858.4,61.9 863.4,63.4 868.4,65.1 873.4,67.1 878.4,69.3 883.4,71.8 888.4,74.6 893.4,77.6 898.4,80.9 903.4,84.3 908.4,87.8 913.4,91.4 918.4,95.0 923.4,98.6 928.4,102.2 933.4,105.6 938.4,109.0 943.4,111.9 948.4,114.2 955.4,115.1" fill="none" stroke="#4272b2" stroke-width="3.6" stroke-linecap="round" stroke-linejoin="round" opacity="0.9"/><path d="M143.4,563.0 148.4,555.1 153.4,547.1 158.4,539.0 163.4,530.7 168.4,522.0 173.4,512.9 178.4,503.2 183.4,492.9 188.4,482.1 193.4,471.0 198.4,460.0 203.4,449.1 208.4,438.6 213.4,428.6 218.4,418.9 223.4,409.8 228.4,401.2 233.4,393.2 238.4,385.9 243.4,379.2 248.4,373.2 253.4,367.6 258.4,362.0 263.4,356.4 268.4,350.6 273.4,344.5 278.4,338.3 283.4,331.9 288.4,325.5 293.4,319.1 298.4,312.5 303.4,305.6 308.4,298.2 313.4,290.6 318.4,283.0 323.4,275.5 328.4,268.2 333.4,261.1 338.4,254.0 343.4,246.8 348.4,239.6 353.4,232.4 358.4,225.2 363.4,218.1 368.4,211.3 373.4,204.7 378.4,198.4 383.4,192.4 388.4,186.7 393.4,181.2 398.4,176.1 403.4,171.4 408.4,167.1 413.4,163.0 418.4,158.7 423.4,154.0 428.4,149.3 433.4,144.5 438.4,139.9 443.4,135.6 448.4,131.5 453.4,127.8 458.4,124.2 463.4,120.9 468.4,117.7 473.4,114.6 478.4,111.6 483.4,108.9 488.4,106.3 493.4,104.0 498.4,101.9 503.4,99.9 508.4,97.9 513.4,95.9 518.4,93.7 523.4,91.4 528.4,89.0 533.4,86.7 538.4,84.6 543.4,82.6 548.4,80.9 553.4,79.6 558.4,78.6 563.4,77.6 568.4,76.6 573.4,75.5 578.4,74.2 583.4,72.8 588.4,71.2 593.4,69.6 598.4,67.9 603.4,66.2 608.4,64.4 613.4,62.7 618.4,61.0 623.4,59.3 628.4,57.8 633.4,56.3 638.4,54.9 643.4,53.7 648.4,52.6 653.4,51.7 658.4,50.8 663.4,50.1 668.4,49.4 673.4,48.8 678.4,48.3 683.4,47.9 688.4,47.5 693.4,47.2 698.4,46.9 703.4,46.6 708.4,46.4 713.4,46.2 718.4,45.9 723.4,45.7 728.4,45.5 733.4,45.4 738.4,45.2 743.4,45.2 748.4,45.1 753.4,45.1 758.4,45.2 763.4,45.4 768.4,45.7 773.4,46.0 778.4,46.5 783.4,47.1 788.4,47.7 793.4,48.4 798.4,49.2 803.4,50.1 808.4,51.0 813.4,51.9 818.4,52.9 823.4,53.9 828.4,54.9 833.4,56.0 838.4,57.0 843.4,58.1 848.4,59.3 853.4,60.5 858.4,61.9 863.4,63.4 868.4,65.1 873.4,67.1 878.4,69.3 883.4,71.8 888.4,74.6 893.4,77.6 898.4,80.9 903.4,84.3 908.4,87.8 913.4,91.4 918.4,95.0 923.4,98.6 928.4,102.2 933.4,105.6 938.4,109.0 943.4,111.9 948.4,114.2 955.4,115.1" fill="none" stroke="#6a98cc" stroke-width="1.3" stroke-linecap="round" stroke-linejoin="round" opacity="0.85"/>
<g fill="#ffb0a8" opacity="0.75">
<circle cx="164.2" cy="329.9" r="0.9"/>
<circle cx="210.2" cy="284.3" r="0.9"/>
<circle cx="261.9" cy="241.9" r="0.9"/>
<circle cx="336.0" cy="196.9" r="0.9"/>
<circle cx="377.3" cy="194.0" r="0.9"/>
<circle cx="435.1" cy="204.9" r="0.9"/>
<circle cx="464.9" cy="212.0" r="0.9"/>
<circle cx="542.0" cy="228.0" r="0.9"/>
<circle cx="589.0" cy="232.8" r="0.9"/>
<circle cx="660.6" cy="246.0" r="0.9"/>
<circle cx="704.1" cy="260.6" r="0.9"/>
<circle cx="732.0" cy="266.8" r="0.9"/>
<circle cx="768.1" cy="282.0" r="0.9"/>
<circle cx="796.2" cy="298.0" r="0.9"/>
<circle cx="813.5" cy="308.5" r="0.9"/>
<circle cx="847.0" cy="324.5" r="0.9"/>
<circle cx="881.8" cy="329.5" r="0.9"/>
<circle cx="903.2" cy="336.0" r="0.9"/>
<circle cx="924.9" cy="346.8" r="0.9"/>
<circle cx="933.5" cy="351.8" r="0.9"/>
<circle cx="944.0" cy="357.5" r="0.9"/>
<circle cx="955.8" cy="376.0" r="0.9"/>
<circle cx="173.1" cy="521.7" r="0.9"/>
<circle cx="228.4" cy="431.3" r="0.9"/>
<circle cx="248.0" cy="411.5" r="0.9"/>
<circle cx="287.3" cy="384.0" r="0.9"/>
<circle cx="324.5" cy="353.5" r="0.9"/>
<circle cx="368.0" cy="315.9" r="0.9"/>
<circle cx="446.0" cy="249.7" r="0.9"/>
<circle cx="486.7" cy="228.9" r="0.9"/>
<circle cx="530.4" cy="210.7" r="0.9"/>
<circle cx="552.2" cy="196.2" r="0.9"/>
<circle cx="572.5" cy="187.2" r="0.9"/>
<circle cx="630.0" cy="171.6" r="0.9"/>
<circle cx="690.5" cy="155.6" r="0.9"/>
<circle cx="728.1" cy="154.1" r="0.9"/>
<circle cx="744.3" cy="150.4" r="0.9"/>
<circle cx="777.8" cy="154.1" r="0.9"/>
<circle cx="812.0" cy="154.1" r="0.9"/>
<circle cx="880.0" cy="154.0" r="0.9"/>
<circle cx="901.0" cy="154.0" r="0.9"/>
<circle cx="918.2" cy="153.9" r="0.9"/>
<circle cx="941.1" cy="162.2" r="0.9"/>
<circle cx="955.4" cy="180.5" r="0.9"/>
</g>
<g stroke="rgba(255,255,255,0.28)" stroke-width="1" fill="none" shape-rendering="crispEdges">
<line x1="69.5" y1="9" x2="69.5" y2="693"/>
<line x1="143.5" y1="9" x2="143.5" y2="693"/>
<line x1="217.5" y1="9" x2="217.5" y2="693"/>
<line x1="291.5" y1="9" x2="291.5" y2="693"/>
<line x1="364.5" y1="9" x2="364.5" y2="693"/>
<line x1="438.5" y1="9" x2="438.5" y2="693"/>
<line x1="512.5" y1="9" x2="512.5" y2="693"/>
<line x1="586.5" y1="9" x2="586.5" y2="693"/>
<line x1="660.5" y1="9" x2="660.5" y2="693"/>
<line x1="734.5" y1="9" x2="734.5" y2="693"/>
<line x1="807.5" y1="9" x2="807.5" y2="693"/>
<line x1="881.5" y1="9" x2="881.5" y2="693"/>
<line x1="955.5" y1="9" x2="955.5" y2="693"/>
<line x1="1030.5" y1="9" x2="1030.5" y2="693"/>
<line x1="64" y1="9.5" x2="1036" y2="9.5"/>
<line x1="64" y1="85.5" x2="1030" y2="85.5"/>
<line x1="64" y1="160.5" x2="1030" y2="160.5"/>
<line x1="64" y1="235.5" x2="1030" y2="235.5"/>
<line x1="64" y1="310.5" x2="1030" y2="310.5"/>
<line x1="64" y1="384.5" x2="1030" y2="384.5"/>
<line x1="64" y1="459.5" x2="1030" y2="459.5"/>
<line x1="64" y1="534.5" x2="1030" y2="534.5"/>
<line x1="64" y1="609.5" x2="1030" y2="609.5"/>
<line x1="64" y1="684.5" x2="1036" y2="684.5"/>
<line x1="1031" y1="623.5" x2="1036" y2="623.5"/>
<line x1="1031" y1="561.5" x2="1036" y2="561.5"/>
<line x1="1031" y1="500.5" x2="1036" y2="500.5"/>
<line x1="1031" y1="439.5" x2="1036" y2="439.5"/>
<line x1="1031" y1="377.5" x2="1036" y2="377.5"/>
<line x1="1031" y1="316.5" x2="1036" y2="316.5"/>
<line x1="1031" y1="254.5" x2="1036" y2="254.5"/>
<line x1="1031" y1="193.5" x2="1036" y2="193.5"/>
<line x1="1031" y1="132.5" x2="1036" y2="132.5"/>
<line x1="1031" y1="70.5" x2="1036" y2="70.5"/>
</g>
<rect x="275" y="248" width="550" height="245" fill="rgba(187,187,187,0.62)"/>
<clipPath id="rc"><rect x="275" y="248" width="550" height="245"/></clipPath>
<g fill="none" stroke="#9b3f3c" stroke-width="6.1" stroke-linejoin="miter" opacity="0.95">
<path d="M396.8,304.0 L396.8,278.9 L369.2,278.9 L369.2,304.7 A65.5,65.5 0 0 0 347.5,313.7 L329.3,295.4 L309.7,315.0 L328.0,333.2 A65.5,65.5 0 0 0 319.0,354.9 L293.2,354.9 L293.2,382.5 L319.0,382.5 A65.5,65.5 0 0 0 328.0,404.2 L309.7,422.4 L329.3,442.0 L347.5,423.7 A65.5,65.5 0 0 0 369.2,432.7 L369.2,458.5 L396.8,458.5 L396.8,433.4"/>
<path d="M420.5,285.8 C409,286.5 402,295 397,303.5 C393,310.5 388.5,316.5 383,317.2 L383,329.5"/>
<path d="M420.5,451.6 C409,450.9 402,442.4 397,433.9 C393,426.9 388.5,420.9 383,420.2 L383,407.9"/>
<path d="M416.5,331 C421,323 430,316.5 440.5,315.6" stroke-linecap="butt"/>
<path d="M416.5,406.4 C421,414.4 430,420.9 440.5,421.8" stroke-linecap="butt"/>
</g>
<g fill="none" stroke="#9b3f3c" stroke-width="4.6" opacity="0.95">
<circle cx="430.2" cy="286.2" r="7.4"/>
<circle cx="448.8" cy="316.1" r="7.4"/>
<circle cx="448.8" cy="421.3" r="7.4"/>
<circle cx="430.2" cy="451.2" r="7.4"/>
</g>
<path d="M384,328.5 L381.5,328.5 A39.8,39.8 0 0 0 381.5,408.1 L384,408.1" fill="none" stroke="#8c4448" stroke-width="1.5" opacity="0.9"/>
<g clip-path="url(#rc)" opacity="0.22"><path d="M143.4,364.0 148.4,354.6 153.4,346.0 158.4,338.2 163.4,331.0 168.4,324.5 173.4,318.6 178.4,313.1 183.4,308.0 188.4,303.2 193.4,298.7 198.4,294.3 203.4,290.1 208.4,285.9 213.4,281.7 218.4,277.5 223.4,273.2 228.4,269.0 233.4,264.8 238.4,260.7 243.4,256.7 248.4,252.8 253.4,249.0 258.4,245.2 263.4,241.5 268.4,237.7 273.4,233.9 278.4,230.0 283.4,226.0 288.4,221.9 293.4,217.9 298.4,214.1 303.4,210.6 308.4,207.5 313.4,204.7 318.4,202.3 323.4,200.3 328.4,198.5 333.4,197.1 338.4,195.9 343.4,195.0 348.4,194.3 353.4,193.9 358.4,193.6 363.4,193.5 368.4,193.5 373.4,193.8 378.4,194.1 383.4,194.6 388.4,195.2 393.4,195.8 398.4,196.6 403.4,197.5 408.4,198.4 413.4,199.4 418.4,200.5 423.4,201.7 428.4,202.8 433.4,204.1 438.4,205.3 443.4,206.6 448.4,207.9 453.4,209.2 458.4,210.5 463.4,211.8 468.4,213.1 473.4,214.4 478.4,215.6 483.4,216.8 488.4,217.9 493.4,219.0 498.4,220.1 503.4,221.1 508.4,222.1 513.4,223.0 518.4,223.9 523.4,224.7 528.4,225.5 533.4,226.3 538.4,227.0 543.4,227.7 548.4,228.4 553.4,229.1 558.4,229.7 563.4,230.3 568.4,230.9 573.4,231.5 578.4,232.0 583.4,232.6 588.4,233.1 593.4,233.6 598.4,234.1 603.4,234.6 608.4,235.2 613.4,235.8 618.4,236.5 623.4,237.2 628.4,238.0 633.4,238.8 638.4,239.8 643.4,240.9 648.4,242.1 653.4,243.4 658.4,244.9 663.4,246.5 668.4,248.3 673.4,250.2 678.4,252.1 683.4,254.0 688.4,255.8 693.4,257.6 698.4,259.2 703.4,260.6 708.4,261.8 713.4,262.8 718.4,263.7 723.4,264.6 728.4,265.5 733.4,266.7 738.4,268.0 743.4,269.7 748.4,271.7 753.4,274.0 758.4,276.4 763.4,279.1 768.4,281.9 773.4,284.9 778.4,287.8 783.4,290.9 788.4,293.9 793.4,296.9 798.4,299.8 803.4,302.7 808.4,305.4 813.4,307.9 818.4,310.3 823.4,312.6 828.4,314.9 833.4,317.5 838.4,320.2 843.4,322.8 848.4,324.9 853.4,326.3 858.4,327.1 863.4,327.6 868.4,328.1 873.4,328.5 878.4,329.1 883.4,329.8 888.4,330.8 893.4,332.2 898.4,334.0 903.4,336.1 908.4,338.5 913.4,341.0 918.4,343.6 923.4,346.3 928.4,348.9 933.4,351.4 938.4,353.8 943.4,357.1 948.4,362.4 955.8,376.0" fill="none" stroke="#c01c1c" stroke-width="10" stroke-linecap="round" stroke-linejoin="round" filter="url(#g1)" opacity="0.95"/><path d="M143.4,364.0 148.4,354.6 153.4,346.0 158.4,338.2 163.4,331.0 168.4,324.5 173.4,318.6 178.4,313.1 183.4,308.0 188.4,303.2 193.4,298.7 198.4,294.3 203.4,290.1 208.4,285.9 213.4,281.7 218.4,277.5 223.4,273.2 228.4,269.0 233.4,264.8 238.4,260.7 243.4,256.7 248.4,252.8 253.4,249.0 258.4,245.2 263.4,241.5 268.4,237.7 273.4,233.9 278.4,230.0 283.4,226.0 288.4,221.9 293.4,217.9 298.4,214.1 303.4,210.6 308.4,207.5 313.4,204.7 318.4,202.3 323.4,200.3 328.4,198.5 333.4,197.1 338.4,195.9 343.4,195.0 348.4,194.3 353.4,193.9 358.4,193.6 363.4,193.5 368.4,193.5 373.4,193.8 378.4,194.1 383.4,194.6 388.4,195.2 393.4,195.8 398.4,196.6 403.4,197.5 408.4,198.4 413.4,199.4 418.4,200.5 423.4,201.7 428.4,202.8 433.4,204.1 438.4,205.3 443.4,206.6 448.4,207.9 453.4,209.2 458.4,210.5 463.4,211.8 468.4,213.1 473.4,214.4 478.4,215.6 483.4,216.8 488.4,217.9 493.4,219.0 498.4,220.1 503.4,221.1 508.4,222.1 513.4,223.0 518.4,223.9 523.4,224.7 528.4,225.5 533.4,226.3 538.4,227.0 543.4,227.7 548.4,228.4 553.4,229.1 558.4,229.7 563.4,230.3 568.4,230.9 573.4,231.5 578.4,232.0 583.4,232.6 588.4,233.1 593.4,233.6 598.4,234.1 603.4,234.6 608.4,235.2 613.4,235.8 618.4,236.5 623.4,237.2 628.4,238.0 633.4,238.8 638.4,239.8 643.4,240.9 648.4,242.1 653.4,243.4 658.4,244.9 663.4,246.5 668.4,248.3 673.4,250.2 678.4,252.1 683.4,254.0 688.4,255.8 693.4,257.6 698.4,259.2 703.4,260.6 708.4,261.8 713.4,262.8 718.4,263.7 723.4,264.6 728.4,265.5 733.4,266.7 738.4,268.0 743.4,269.7 748.4,271.7 753.4,274.0 758.4,276.4 763.4,279.1 768.4,281.9 773.4,284.9 778.4,287.8 783.4,290.9 788.4,293.9 793.4,296.9 798.4,299.8 803.4,302.7 808.4,305.4 813.4,307.9 818.4,310.3 823.4,312.6 828.4,314.9 833.4,317.5 838.4,320.2 843.4,322.8 848.4,324.9 853.4,326.3 858.4,327.1 863.4,327.6 868.4,328.1 873.4,328.5 878.4,329.1 883.4,329.8 888.4,330.8 893.4,332.2 898.4,334.0 903.4,336.1 908.4,338.5 913.4,341.0 918.4,343.6 923.4,346.3 928.4,348.9 933.4,351.4 938.4,353.8 943.4,357.1 948.4,362.4 955.8,376.0" fill="none" stroke="#c42828" stroke-width="3.6" stroke-linecap="round" stroke-linejoin="round" opacity="0.9"/><path d="M143.4,364.0 148.4,354.6 153.4,346.0 158.4,338.2 163.4,331.0 168.4,324.5 173.4,318.6 178.4,313.1 183.4,308.0 188.4,303.2 193.4,298.7 198.4,294.3 203.4,290.1 208.4,285.9 213.4,281.7 218.4,277.5 223.4,273.2 228.4,269.0 233.4,264.8 238.4,260.7 243.4,256.7 248.4,252.8 253.4,249.0 258.4,245.2 263.4,241.5 268.4,237.7 273.4,233.9 278.4,230.0 283.4,226.0 288.4,221.9 293.4,217.9 298.4,214.1 303.4,210.6 308.4,207.5 313.4,204.7 318.4,202.3 323.4,200.3 328.4,198.5 333.4,197.1 338.4,195.9 343.4,195.0 348.4,194.3 353.4,193.9 358.4,193.6 363.4,193.5 368.4,193.5 373.4,193.8 378.4,194.1 383.4,194.6 388.4,195.2 393.4,195.8 398.4,196.6 403.4,197.5 408.4,198.4 413.4,199.4 418.4,200.5 423.4,201.7 428.4,202.8 433.4,204.1 438.4,205.3 443.4,206.6 448.4,207.9 453.4,209.2 458.4,210.5 463.4,211.8 468.4,213.1 473.4,214.4 478.4,215.6 483.4,216.8 488.4,217.9 493.4,219.0 498.4,220.1 503.4,221.1 508.4,222.1 513.4,223.0 518.4,223.9 523.4,224.7 528.4,225.5 533.4,226.3 538.4,227.0 543.4,227.7 548.4,228.4 553.4,229.1 558.4,229.7 563.4,230.3 568.4,230.9 573.4,231.5 578.4,232.0 583.4,232.6 588.4,233.1 593.4,233.6 598.4,234.1 603.4,234.6 608.4,235.2 613.4,235.8 618.4,236.5 623.4,237.2 628.4,238.0 633.4,238.8 638.4,239.8 643.4,240.9 648.4,242.1 653.4,243.4 658.4,244.9 663.4,246.5 668.4,248.3 673.4,250.2 678.4,252.1 683.4,254.0 688.4,255.8 693.4,257.6 698.4,259.2 703.4,260.6 708.4,261.8 713.4,262.8 718.4,263.7 723.4,264.6 728.4,265.5 733.4,266.7 738.4,268.0 743.4,269.7 748.4,271.7 753.4,274.0 758.4,276.4 763.4,279.1 768.4,281.9 773.4,284.9 778.4,287.8 783.4,290.9 788.4,293.9 793.4,296.9 798.4,299.8 803.4,302.7 808.4,305.4 813.4,307.9 818.4,310.3 823.4,312.6 828.4,314.9 833.4,317.5 838.4,320.2 843.4,322.8 848.4,324.9 853.4,326.3 858.4,327.1 863.4,327.6 868.4,328.1 873.4,328.5 878.4,329.1 883.4,329.8 888.4,330.8 893.4,332.2 898.4,334.0 903.4,336.1 908.4,338.5 913.4,341.0 918.4,343.6 923.4,346.3 928.4,348.9 933.4,351.4 938.4,353.8 943.4,357.1 948.4,362.4 955.8,376.0" fill="none" stroke="#f47a6c" stroke-width="1.3" stroke-linecap="round" stroke-linejoin="round" opacity="0.85"/><path d="M143.4,563.0 148.4,552.4 153.4,544.5 158.4,538.3 163.4,533.0 168.4,527.5 173.4,520.9 178.4,512.5 183.4,502.8 188.4,492.9 193.4,483.3 198.4,474.4 203.4,466.1 208.4,458.4 213.4,451.1 218.4,444.1 223.4,437.5 228.4,431.2 233.4,425.6 238.4,420.4 243.4,415.8 248.4,411.6 253.4,407.9 258.4,404.6 263.4,401.7 268.4,399.0 273.4,396.1 278.4,392.5 283.4,388.2 288.4,384.0 293.4,380.1 298.4,376.3 303.4,372.3 308.4,368.1 313.4,363.7 318.4,359.2 323.4,354.7 328.4,350.2 333.4,345.8 338.4,341.4 343.4,337.0 348.4,332.6 353.4,328.3 358.4,324.0 363.4,319.7 368.4,315.4 373.4,311.0 378.4,306.7 383.4,302.4 388.4,298.0 393.4,293.5 398.4,289.1 403.4,284.6 408.4,280.0 413.4,275.5 418.4,271.0 423.4,266.7 428.4,262.5 433.4,258.5 438.4,254.7 443.4,251.2 448.4,247.9 453.4,244.9 458.4,242.0 463.4,239.3 468.4,236.8 473.4,234.5 478.4,232.3 483.4,230.3 488.4,228.3 493.4,226.5 498.4,224.8 503.4,223.0 508.4,221.1 513.4,219.2 518.4,217.0 523.4,214.6 528.4,211.8 533.4,208.8 538.4,205.4 543.4,202.0 548.4,198.6 553.4,195.6 558.4,192.9 563.4,190.6 568.4,188.6 573.4,186.8 578.4,185.1 583.4,183.6 588.4,182.2 593.4,180.8 598.4,179.6 603.4,178.4 608.4,177.2 613.4,176.0 618.4,174.8 623.4,173.5 628.4,172.2 633.4,170.8 638.4,169.3 643.4,167.8 648.4,166.3 653.4,164.7 658.4,163.2 663.4,161.7 668.4,160.4 673.4,159.1 678.4,157.9 683.4,156.9 688.4,156.1 693.4,155.5 698.4,155.1 703.4,155.0 708.4,155.0 713.4,155.1 718.4,155.0 723.4,154.6 728.4,153.8 733.4,152.6 738.4,151.3 743.4,150.5 748.4,150.5 753.4,151.2 758.4,152.0 763.4,152.7 768.4,153.2 773.4,153.6 778.4,153.9 783.4,154.0 788.4,154.1 793.4,154.2 798.4,154.2 803.4,154.2 808.4,154.1 813.4,154.1 818.4,154.1 823.4,154.1 828.4,154.1 833.4,154.1 838.4,154.2 843.4,154.2 848.4,154.2 853.4,154.2 858.4,154.1 863.4,154.1 868.4,154.0 873.4,153.9 878.4,153.8 883.4,153.7 888.4,153.7 893.4,153.7 898.4,153.7 903.4,153.8 908.4,153.9 913.4,154.2 918.4,154.5 923.4,154.9 928.4,155.8 933.4,157.3 938.4,159.6 943.4,163.2 948.4,168.5 955.4,180.0" fill="none" stroke="#c01c1c" stroke-width="10" stroke-linecap="round" stroke-linejoin="round" filter="url(#g1)" opacity="0.95"/><path d="M143.4,563.0 148.4,552.4 153.4,544.5 158.4,538.3 163.4,533.0 168.4,527.5 173.4,520.9 178.4,512.5 183.4,502.8 188.4,492.9 193.4,483.3 198.4,474.4 203.4,466.1 208.4,458.4 213.4,451.1 218.4,444.1 223.4,437.5 228.4,431.2 233.4,425.6 238.4,420.4 243.4,415.8 248.4,411.6 253.4,407.9 258.4,404.6 263.4,401.7 268.4,399.0 273.4,396.1 278.4,392.5 283.4,388.2 288.4,384.0 293.4,380.1 298.4,376.3 303.4,372.3 308.4,368.1 313.4,363.7 318.4,359.2 323.4,354.7 328.4,350.2 333.4,345.8 338.4,341.4 343.4,337.0 348.4,332.6 353.4,328.3 358.4,324.0 363.4,319.7 368.4,315.4 373.4,311.0 378.4,306.7 383.4,302.4 388.4,298.0 393.4,293.5 398.4,289.1 403.4,284.6 408.4,280.0 413.4,275.5 418.4,271.0 423.4,266.7 428.4,262.5 433.4,258.5 438.4,254.7 443.4,251.2 448.4,247.9 453.4,244.9 458.4,242.0 463.4,239.3 468.4,236.8 473.4,234.5 478.4,232.3 483.4,230.3 488.4,228.3 493.4,226.5 498.4,224.8 503.4,223.0 508.4,221.1 513.4,219.2 518.4,217.0 523.4,214.6 528.4,211.8 533.4,208.8 538.4,205.4 543.4,202.0 548.4,198.6 553.4,195.6 558.4,192.9 563.4,190.6 568.4,188.6 573.4,186.8 578.4,185.1 583.4,183.6 588.4,182.2 593.4,180.8 598.4,179.6 603.4,178.4 608.4,177.2 613.4,176.0 618.4,174.8 623.4,173.5 628.4,172.2 633.4,170.8 638.4,169.3 643.4,167.8 648.4,166.3 653.4,164.7 658.4,163.2 663.4,161.7 668.4,160.4 673.4,159.1 678.4,157.9 683.4,156.9 688.4,156.1 693.4,155.5 698.4,155.1 703.4,155.0 708.4,155.0 713.4,155.1 718.4,155.0 723.4,154.6 728.4,153.8 733.4,152.6 738.4,151.3 743.4,150.5 748.4,150.5 753.4,151.2 758.4,152.0 763.4,152.7 768.4,153.2 773.4,153.6 778.4,153.9 783.4,154.0 788.4,154.1 793.4,154.2 798.4,154.2 803.4,154.2 808.4,154.1 813.4,154.1 818.4,154.1 823.4,154.1 828.4,154.1 833.4,154.1 838.4,154.2 843.4,154.2 848.4,154.2 853.4,154.2 858.4,154.1 863.4,154.1 868.4,154.0 873.4,153.9 878.4,153.8 883.4,153.7 888.4,153.7 893.4,153.7 898.4,153.7 903.4,153.8 908.4,153.9 913.4,154.2 918.4,154.5 923.4,154.9 928.4,155.8 933.4,157.3 938.4,159.6 943.4,163.2 948.4,168.5 955.4,180.0" fill="none" stroke="#c42828" stroke-width="3.6" stroke-linecap="round" stroke-linejoin="round" opacity="0.9"/><path d="M143.4,563.0 148.4,552.4 153.4,544.5 158.4,538.3 163.4,533.0 168.4,527.5 173.4,520.9 178.4,512.5 183.4,502.8 188.4,492.9 193.4,483.3 198.4,474.4 203.4,466.1 208.4,458.4 213.4,451.1 218.4,444.1 223.4,437.5 228.4,431.2 233.4,425.6 238.4,420.4 243.4,415.8 248.4,411.6 253.4,407.9 258.4,404.6 263.4,401.7 268.4,399.0 273.4,396.1 278.4,392.5 283.4,388.2 288.4,384.0 293.4,380.1 298.4,376.3 303.4,372.3 308.4,368.1 313.4,363.7 318.4,359.2 323.4,354.7 328.4,350.2 333.4,345.8 338.4,341.4 343.4,337.0 348.4,332.6 353.4,328.3 358.4,324.0 363.4,319.7 368.4,315.4 373.4,311.0 378.4,306.7 383.4,302.4 388.4,298.0 393.4,293.5 398.4,289.1 403.4,284.6 408.4,280.0 413.4,275.5 418.4,271.0 423.4,266.7 428.4,262.5 433.4,258.5 438.4,254.7 443.4,251.2 448.4,247.9 453.4,244.9 458.4,242.0 463.4,239.3 468.4,236.8 473.4,234.5 478.4,232.3 483.4,230.3 488.4,228.3 493.4,226.5 498.4,224.8 503.4,223.0 508.4,221.1 513.4,219.2 518.4,217.0 523.4,214.6 528.4,211.8 533.4,208.8 538.4,205.4 543.4,202.0 548.4,198.6 553.4,195.6 558.4,192.9 563.4,190.6 568.4,188.6 573.4,186.8 578.4,185.1 583.4,183.6 588.4,182.2 593.4,180.8 598.4,179.6 603.4,178.4 608.4,177.2 613.4,176.0 618.4,174.8 623.4,173.5 628.4,172.2 633.4,170.8 638.4,169.3 643.4,167.8 648.4,166.3 653.4,164.7 658.4,163.2 663.4,161.7 668.4,160.4 673.4,159.1 678.4,157.9 683.4,156.9 688.4,156.1 693.4,155.5 698.4,155.1 703.4,155.0 708.4,155.0 713.4,155.1 718.4,155.0 723.4,154.6 728.4,153.8 733.4,152.6 738.4,151.3 743.4,150.5 748.4,150.5 753.4,151.2 758.4,152.0 763.4,152.7 768.4,153.2 773.4,153.6 778.4,153.9 783.4,154.0 788.4,154.1 793.4,154.2 798.4,154.2 803.4,154.2 808.4,154.1 813.4,154.1 818.4,154.1 823.4,154.1 828.4,154.1 833.4,154.1 838.4,154.2 843.4,154.2 848.4,154.2 853.4,154.2 858.4,154.1 863.4,154.1 868.4,154.0 873.4,153.9 878.4,153.8 883.4,153.7 888.4,153.7 893.4,153.7 898.4,153.7 903.4,153.8 908.4,153.9 913.4,154.2 918.4,154.5 923.4,154.9 928.4,155.8 933.4,157.3 938.4,159.6 943.4,163.2 948.4,168.5 955.4,180.0" fill="none" stroke="#f47a6c" stroke-width="1.3" stroke-linecap="round" stroke-linejoin="round" opacity="0.85"/><path d="M143.4,563.0 148.4,555.1 153.4,547.1 158.4,539.0 163.4,530.7 168.4,522.0 173.4,512.9 178.4,503.2 183.4,492.9 188.4,482.1 193.4,471.0 198.4,460.0 203.4,449.1 208.4,438.6 213.4,428.6 218.4,418.9 223.4,409.8 228.4,401.2 233.4,393.2 238.4,385.9 243.4,379.2 248.4,373.2 253.4,367.6 258.4,362.0 263.4,356.4 268.4,350.6 273.4,344.5 278.4,338.3 283.4,331.9 288.4,325.5 293.4,319.1 298.4,312.5 303.4,305.6 308.4,298.2 313.4,290.6 318.4,283.0 323.4,275.5 328.4,268.2 333.4,261.1 338.4,254.0 343.4,246.8 348.4,239.6 353.4,232.4 358.4,225.2 363.4,218.1 368.4,211.3 373.4,204.7 378.4,198.4 383.4,192.4 388.4,186.7 393.4,181.2 398.4,176.1 403.4,171.4 408.4,167.1 413.4,163.0 418.4,158.7 423.4,154.0 428.4,149.3 433.4,144.5 438.4,139.9 443.4,135.6 448.4,131.5 453.4,127.8 458.4,124.2 463.4,120.9 468.4,117.7 473.4,114.6 478.4,111.6 483.4,108.9 488.4,106.3 493.4,104.0 498.4,101.9 503.4,99.9 508.4,97.9 513.4,95.9 518.4,93.7 523.4,91.4 528.4,89.0 533.4,86.7 538.4,84.6 543.4,82.6 548.4,80.9 553.4,79.6 558.4,78.6 563.4,77.6 568.4,76.6 573.4,75.5 578.4,74.2 583.4,72.8 588.4,71.2 593.4,69.6 598.4,67.9 603.4,66.2 608.4,64.4 613.4,62.7 618.4,61.0 623.4,59.3 628.4,57.8 633.4,56.3 638.4,54.9 643.4,53.7 648.4,52.6 653.4,51.7 658.4,50.8 663.4,50.1 668.4,49.4 673.4,48.8 678.4,48.3 683.4,47.9 688.4,47.5 693.4,47.2 698.4,46.9 703.4,46.6 708.4,46.4 713.4,46.2 718.4,45.9 723.4,45.7 728.4,45.5 733.4,45.4 738.4,45.2 743.4,45.2 748.4,45.1 753.4,45.1 758.4,45.2 763.4,45.4 768.4,45.7 773.4,46.0 778.4,46.5 783.4,47.1 788.4,47.7 793.4,48.4 798.4,49.2 803.4,50.1 808.4,51.0 813.4,51.9 818.4,52.9 823.4,53.9 828.4,54.9 833.4,56.0 838.4,57.0 843.4,58.1 848.4,59.3 853.4,60.5 858.4,61.9 863.4,63.4 868.4,65.1 873.4,67.1 878.4,69.3 883.4,71.8 888.4,74.6 893.4,77.6 898.4,80.9 903.4,84.3 908.4,87.8 913.4,91.4 918.4,95.0 923.4,98.6 928.4,102.2 933.4,105.6 938.4,109.0 943.4,111.9 948.4,114.2 955.4,115.1" fill="none" stroke="#3464a8" stroke-width="10" stroke-linecap="round" stroke-linejoin="round" filter="url(#g1)" opacity="0.95"/><path d="M143.4,563.0 148.4,555.1 153.4,547.1 158.4,539.0 163.4,530.7 168.4,522.0 173.4,512.9 178.4,503.2 183.4,492.9 188.4,482.1 193.4,471.0 198.4,460.0 203.4,449.1 208.4,438.6 213.4,428.6 218.4,418.9 223.4,409.8 228.4,401.2 233.4,393.2 238.4,385.9 243.4,379.2 248.4,373.2 253.4,367.6 258.4,362.0 263.4,356.4 268.4,350.6 273.4,344.5 278.4,338.3 283.4,331.9 288.4,325.5 293.4,319.1 298.4,312.5 303.4,305.6 308.4,298.2 313.4,290.6 318.4,283.0 323.4,275.5 328.4,268.2 333.4,261.1 338.4,254.0 343.4,246.8 348.4,239.6 353.4,232.4 358.4,225.2 363.4,218.1 368.4,211.3 373.4,204.7 378.4,198.4 383.4,192.4 388.4,186.7 393.4,181.2 398.4,176.1 403.4,171.4 408.4,167.1 413.4,163.0 418.4,158.7 423.4,154.0 428.4,149.3 433.4,144.5 438.4,139.9 443.4,135.6 448.4,131.5 453.4,127.8 458.4,124.2 463.4,120.9 468.4,117.7 473.4,114.6 478.4,111.6 483.4,108.9 488.4,106.3 493.4,104.0 498.4,101.9 503.4,99.9 508.4,97.9 513.4,95.9 518.4,93.7 523.4,91.4 528.4,89.0 533.4,86.7 538.4,84.6 543.4,82.6 548.4,80.9 553.4,79.6 558.4,78.6 563.4,77.6 568.4,76.6 573.4,75.5 578.4,74.2 583.4,72.8 588.4,71.2 593.4,69.6 598.4,67.9 603.4,66.2 608.4,64.4 613.4,62.7 618.4,61.0 623.4,59.3 628.4,57.8 633.4,56.3 638.4,54.9 643.4,53.7 648.4,52.6 653.4,51.7 658.4,50.8 663.4,50.1 668.4,49.4 673.4,48.8 678.4,48.3 683.4,47.9 688.4,47.5 693.4,47.2 698.4,46.9 703.4,46.6 708.4,46.4 713.4,46.2 718.4,45.9 723.4,45.7 728.4,45.5 733.4,45.4 738.4,45.2 743.4,45.2 748.4,45.1 753.4,45.1 758.4,45.2 763.4,45.4 768.4,45.7 773.4,46.0 778.4,46.5 783.4,47.1 788.4,47.7 793.4,48.4 798.4,49.2 803.4,50.1 808.4,51.0 813.4,51.9 818.4,52.9 823.4,53.9 828.4,54.9 833.4,56.0 838.4,57.0 843.4,58.1 848.4,59.3 853.4,60.5 858.4,61.9 863.4,63.4 868.4,65.1 873.4,67.1 878.4,69.3 883.4,71.8 888.4,74.6 893.4,77.6 898.4,80.9 903.4,84.3 908.4,87.8 913.4,91.4 918.4,95.0 923.4,98.6 928.4,102.2 933.4,105.6 938.4,109.0 943.4,111.9 948.4,114.2 955.4,115.1" fill="none" stroke="#4272b2" stroke-width="3.6" stroke-linecap="round" stroke-linejoin="round" opacity="0.9"/><path d="M143.4,563.0 148.4,555.1 153.4,547.1 158.4,539.0 163.4,530.7 168.4,522.0 173.4,512.9 178.4,503.2 183.4,492.9 188.4,482.1 193.4,471.0 198.4,460.0 203.4,449.1 208.4,438.6 213.4,428.6 218.4,418.9 223.4,409.8 228.4,401.2 233.4,393.2 238.4,385.9 243.4,379.2 248.4,373.2 253.4,367.6 258.4,362.0 263.4,356.4 268.4,350.6 273.4,344.5 278.4,338.3 283.4,331.9 288.4,325.5 293.4,319.1 298.4,312.5 303.4,305.6 308.4,298.2 313.4,290.6 318.4,283.0 323.4,275.5 328.4,268.2 333.4,261.1 338.4,254.0 343.4,246.8 348.4,239.6 353.4,232.4 358.4,225.2 363.4,218.1 368.4,211.3 373.4,204.7 378.4,198.4 383.4,192.4 388.4,186.7 393.4,181.2 398.4,176.1 403.4,171.4 408.4,167.1 413.4,163.0 418.4,158.7 423.4,154.0 428.4,149.3 433.4,144.5 438.4,139.9 443.4,135.6 448.4,131.5 453.4,127.8 458.4,124.2 463.4,120.9 468.4,117.7 473.4,114.6 478.4,111.6 483.4,108.9 488.4,106.3 493.4,104.0 498.4,101.9 503.4,99.9 508.4,97.9 513.4,95.9 518.4,93.7 523.4,91.4 528.4,89.0 533.4,86.7 538.4,84.6 543.4,82.6 548.4,80.9 553.4,79.6 558.4,78.6 563.4,77.6 568.4,76.6 573.4,75.5 578.4,74.2 583.4,72.8 588.4,71.2 593.4,69.6 598.4,67.9 603.4,66.2 608.4,64.4 613.4,62.7 618.4,61.0 623.4,59.3 628.4,57.8 633.4,56.3 638.4,54.9 643.4,53.7 648.4,52.6 653.4,51.7 658.4,50.8 663.4,50.1 668.4,49.4 673.4,48.8 678.4,48.3 683.4,47.9 688.4,47.5 693.4,47.2 698.4,46.9 703.4,46.6 708.4,46.4 713.4,46.2 718.4,45.9 723.4,45.7 728.4,45.5 733.4,45.4 738.4,45.2 743.4,45.2 748.4,45.1 753.4,45.1 758.4,45.2 763.4,45.4 768.4,45.7 773.4,46.0 778.4,46.5 783.4,47.1 788.4,47.7 793.4,48.4 798.4,49.2 803.4,50.1 808.4,51.0 813.4,51.9 818.4,52.9 823.4,53.9 828.4,54.9 833.4,56.0 838.4,57.0 843.4,58.1 848.4,59.3 853.4,60.5 858.4,61.9 863.4,63.4 868.4,65.1 873.4,67.1 878.4,69.3 883.4,71.8 888.4,74.6 893.4,77.6 898.4,80.9 903.4,84.3 908.4,87.8 913.4,91.4 918.4,95.0 923.4,98.6 928.4,102.2 933.4,105.6 938.4,109.0 943.4,111.9 948.4,114.2 955.4,115.1" fill="none" stroke="#6a98cc" stroke-width="1.3" stroke-linecap="round" stroke-linejoin="round" opacity="0.85"/></g>
<text x="363.3" y="375.3" font-size="19.2" font-weight="bold" fill="#303030" letter-spacing="1.4" textLength="452" lengthAdjust="spacingAndGlyphs">PERFORMANCE CAR SOLUTIONS</text>
</svg>
</div></body></html>
